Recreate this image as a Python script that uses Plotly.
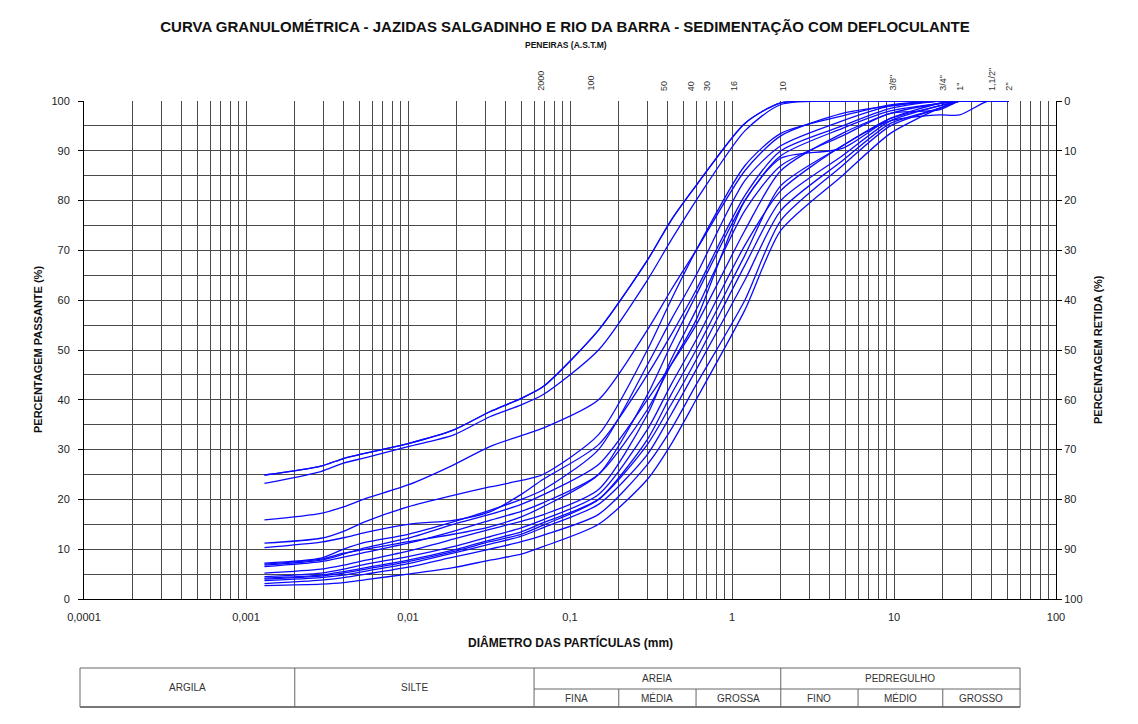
import math
import plotly.graph_objects as go

# ---------------- text ----------------
TITLE = "CURVA GRANULOMÉTRICA - JAZIDAS SALGADINHO E RIO DA BARRA - SEDIMENTAÇÃO COM DEFLOCULANTE"
SUBTITLE = "PENEIRAS (A.S.T.M)"
X_TITLE = "DIÂMETRO DAS PARTÍCULAS (mm)"
Y_TITLE = "PERCENTAGEM PASSANTE (%)"
Y2_TITLE = "PERCENTAGEM RETIDA (%)"

# ---------------- data ----------------
# diameters (mm): sedimentation readings, then sieves
DIAM_SED = [0.0013, 0.0029, 0.0040, 0.0055, 0.01, 0.019, 0.032, 0.05, 0.068]
DIAM_SIEVE = [0.15, 0.3, 0.42, 0.6, 1.2, 2.0, 4.8, 9.5, 19.0, 25.4, 38.1, 50.8]

# percent passing for each sample (sedimentation part + sieve part)
CURVE_01 = [24.9, 26.7, 28.2, 29.3, 31.2, 33.9, 37.6, 40.3, 42.6,
            54, 68, 76, 83, 95.5, 99.6, 100, 100, 100, 100, 100, 100]
CURVE_02 = [23.2, 25.6, 27.3, 28.4, 30.6, 32.9, 36.6, 39.0, 41.0,
            50, 64, 72, 80, 94, 99.3, 100, 100, 100, 100, 100, 100]
CURVE_03 = [15.9, 17.2, 18.5, 20.2, 22.9, 26.9, 30.6, 32.8, 34.3,
            40, 54, 62, 70, 86, 93, 97.5, 99, 100, 100, 100, 100]
CURVE_04 = [11.2, 12.2, 13.6, 15.6, 18.5, 20.8, 22.5, 23.8, 25.0,
            33, 50, 60, 70, 87, 93.5, 97, 99.2, 100, 100, 100, 100]
CURVE_05 = [10.3, 11.4, 12.3, 13.4, 15.0, 15.8, 17.5, 21.0, 24.0,
            31, 45, 53, 62, 81, 90, 95, 98.5, 100, 100, 100, 100]
CURVE_06 = [7.2, 8.2, 10.0, 11.4, 13.0, 15.5, 17.8, 20.0, 21.9,
            30, 47, 56, 65, 84, 91, 96, 99, 100, 100, 100, 100]
CURVE_07 = [6.8, 7.8, 9.0, 10.3, 12.2, 15.0, 17.0, 19.0, 20.9,
            27, 40, 47, 55, 74, 86, 93.5, 97.5, 99.5, 100, 100, 100]
CURVE_08 = [6.5, 7.5, 8.4, 9.4, 11.2, 13.6, 15.8, 17.6, 19.3,
            25, 38, 47, 56, 80, 88.5, 90.5, 96.5, 99.5, 100, 100, 100]
CURVE_09 = [5.2, 6.0, 6.8, 7.8, 9.6, 12.0, 14.0, 15.6, 16.9,
            22, 37, 48, 58, 78, 87, 93, 97.5, 98.2, 100, 100, 100]
CURVE_10 = [4.5, 5.2, 6.0, 7.0, 8.5, 10.5, 12.5, 14.3, 15.9,
            21, 34, 43, 52, 71, 82, 91, 96, 97.2, 97.2, 100, 100]
CURVE_11 = [4.2, 4.8, 5.5, 6.3, 7.8, 9.8, 11.8, 13.5, 15.3,
            20, 31, 39, 48, 67, 80, 89, 96, 99, 100, 100, 100]
CURVE_12 = [3.7, 4.3, 4.8, 5.6, 7.1, 9.2, 11.0, 12.6, 14.3,
            19, 29, 37, 46, 64, 78, 88, 95.5, 98.5, 100, 100, 100]
CURVE_13 = [3.1, 3.8, 4.3, 5.0, 6.4, 8.4, 10.0, 11.5, 12.8,
            17, 27, 34, 43, 60, 76, 87, 95, 98.5, 100, 100, 100]
CURVE_14 = [2.7, 3.0, 3.3, 3.9, 5.0, 6.3, 7.8, 9.0, 10.5,
            15, 24, 31, 40, 58, 74, 85, 93.5, 98.5, 100, 100, 100]
CURVE_15 = [7.0, 8.0, 9.2, 10.0, 11.5, 13.0, 14.5, 16.5, 18.5,
            25, 41, 51, 61, 80, 89, 94.5, 98, 99.5, 100, 100, 100]
CURVE_16 = [4.0, 4.6, 5.2, 6.0, 7.5, 9.5, 11.5, 13.0, 14.8,
            20, 32, 41, 50, 69, 83, 91, 96.5, 99, 100, 100, 100]

CURVES = [CURVE_01, CURVE_02, CURVE_03, CURVE_04, CURVE_05, CURVE_06, CURVE_07, CURVE_08,
          CURVE_09, CURVE_10, CURVE_11, CURVE_12, CURVE_13, CURVE_14, CURVE_15, CURVE_16]

# axis ticks
X_DECADES = [0.0001, 0.001, 0.01, 0.1, 1, 10, 100]
X_DECADE_LABELS = ["0,0001", "0,001", "0,01", "0,1", "1", "10", "100"]
Y_TICKS = [0, 10, 20, 30, 40, 50, 60, 70, 80, 90, 100]

# sieve labels on top (position in mm as read on the chart)
SIEVE_LABELS = ["2000", "100", "50", "40", "30", "16", "10", '3/8"', '3/4"', '1"', '1,1/2"', '2"']
SIEVE_LABEL_MM = [0.066, 0.133, 0.38, 0.56, 0.70, 1.03, 2.07, 9.8, 20.0, 25.5, 40.0, 51.0]

# classification table (ABNT)
CLASS_BOUNDS_MM = [0.002, 0.06, 0.2, 0.6, 2.0, 6.0, 20.0, 60.0]
MAIN_CLASSES = ["ARGILA", "SILTE", "AREIA", "PEDREGULHO"]
SUB_CLASSES = ["FINA", "MÉDIA", "GROSSA", "FINO", "MÉDIO", "GROSSO"]

# ---------------- figure ----------------
FONT = "Liberation Sans, Arial, sans-serif"
BLUE = "rgb(10,10,255)"
GRID = "#4a4a4a"

OFF = 8  # default page body margin
PLOT_L, PLOT_R, PLOT_T, PLOT_B = 84, 1056, 101, 599  # plot area in page pixels
W, H = 1138 - OFF, 724 - OFF
L, T = PLOT_L - OFF, PLOT_T - OFF
R = W - L - (PLOT_R - PLOT_L)
B = H - T - (PLOT_B - PLOT_T)
PW, PH = PLOT_R - PLOT_L, PLOT_B - PLOT_T

diam = DIAM_SED + DIAM_SIEVE
fig = go.Figure()
for c in CURVES:
    fig.add_trace(go.Scatter(x=diam, y=c, mode="lines",
                             line=dict(color=BLUE, width=1.3, shape="spline", smoothing=0.7),
                             showlegend=False, hoverinfo="skip"))
# retained % of the first sample on the right axis (same drawing as passing curve)
fig.add_trace(go.Scatter(x=diam, y=[100 - v for v in CURVE_01], yaxis="y2", mode="lines",
                         line=dict(color=BLUE, width=1.3, shape="spline", smoothing=0.7),
                         showlegend=False, hoverinfo="skip"))

# x grid at every 1..9 x 10^k
xt, xl = [], []
for i, dec in enumerate(X_DECADES[:-1]):
    for k in range(1, 10):
        xt.append(dec * k)
        xl.append(X_DECADE_LABELS[i] if k == 1 else "")
xt.append(X_DECADES[-1])
xl.append(X_DECADE_LABELS[-1])


def px_x(px):
    return (px - PLOT_L) / PW


def px_y(py):
    return (PLOT_B - py) / PH


def mm_paper(d):
    return (math.log10(d) - math.log10(X_DECADES[0])) / (math.log10(X_DECADES[-1]) - math.log10(X_DECADES[0]))


fig.update_layout(
    width=W, height=H,
    margin=dict(l=L, r=R, t=T, b=B),
    paper_bgcolor="white", plot_bgcolor="white",
    font=dict(family=FONT, size=11, color="#222"),
    title=dict(text="<b>" + TITLE + "</b>", x=px_x(565), xref="paper",
               y=1 - (27 - OFF) / H, yref="container", xanchor="center", yanchor="middle",
               font=dict(size=15, color="#111", family=FONT)),
    xaxis=dict(type="log", range=[math.log10(X_DECADES[0]), math.log10(X_DECADES[-1])],
               tickvals=xt, ticktext=xl, ticks="", ticklabelstandoff=8,
               showgrid=True, gridcolor=GRID, gridwidth=1,
               showline=True, linecolor="black", linewidth=1, zeroline=False,
               tickfont=dict(size=11, color="#222")),
    yaxis=dict(range=[0, 100], tickvals=Y_TICKS, ticks="outside", ticklen=5, tickcolor="black",
               ticklabelstandoff=6,
               showgrid=True, gridcolor=GRID, gridwidth=1,
               minor=dict(dtick=5, showgrid=True, gridcolor=GRID, gridwidth=1, ticks=""),
               showline=True, linecolor="black", linewidth=1, zeroline=False,
               tickfont=dict(size=11, color="#222")),
    yaxis2=dict(range=[100, 0], tickvals=Y_TICKS, overlaying="y", side="right", ticks="outside",
                ticklen=5, tickcolor="black", showgrid=False, showline=True, linecolor="black",
                linewidth=1, zeroline=False, tickfont=dict(size=11, color="#222")),
)

ann = []
ann.append(dict(text="<b>" + SUBTITLE + "</b>", xref="paper", yref="paper", x=px_x(566), y=px_y(45),
                showarrow=False, font=dict(size=8.5, color="#111"), xanchor="center", yanchor="middle"))
ann.append(dict(text="<b>" + X_TITLE + "</b>", xref="paper", yref="paper", x=0.5, y=px_y(642),
                showarrow=False, font=dict(size=12, color="#111"), xanchor="center", yanchor="middle"))
ann.append(dict(text="<b>" + Y_TITLE + "</b>", xref="paper", yref="paper", x=px_x(38), y=0.5,
                textangle=-90, showarrow=False, font=dict(size=11, color="#111"),
                xanchor="center", yanchor="middle"))
ann.append(dict(text="<b>" + Y2_TITLE + "</b>", xref="paper", yref="paper", x=px_x(1098), y=0.5,
                textangle=-90, showarrow=False, font=dict(size=11, color="#111"),
                xanchor="center", yanchor="middle"))
for lab, d in zip(SIEVE_LABELS, SIEVE_LABEL_MM):
    ann.append(dict(text=lab, xref="x", yref="paper", x=math.log10(d), y=1, yshift=8,
                    textangle=-90, showarrow=False, font=dict(size=9, color="#333"),
                    xanchor="center", yanchor="bottom"))

# classification table
shapes = []
ty_top, ty_mid, ty_bot = px_y(668), px_y(689), px_y(707)
tx_left = px_x(80)
bx = [mm_paper(d) for d in CLASS_BOUNDS_MM]
line = dict(color="#666", width=1)
shapes.append(dict(type="rect", xref="paper", yref="paper", x0=tx_left, x1=bx[-1], y0=ty_bot, y1=ty_top,
                   line=line))
shapes.append(dict(type="line", xref="paper", yref="paper", x0=tx_left, x1=bx[-1], y0=ty_bot, y1=ty_bot,
                   line=dict(color="#777", width=2)))
for i in (0, 1, 4):
    shapes.append(dict(type="line", xref="paper", yref="paper", x0=bx[i], x1=bx[i], y0=ty_bot, y1=ty_top, line=line))
for i in (2, 3, 5, 6):
    shapes.append(dict(type="line", xref="paper", yref="paper", x0=bx[i], x1=bx[i], y0=ty_bot, y1=ty_mid, line=line))
shapes.append(dict(type="line", xref="paper", yref="paper", x0=bx[1], x1=bx[-1], y0=ty_mid, y1=ty_mid, line=line))

tfont = dict(size=10, color="#333")
main_x = [(tx_left + bx[0]) / 2, (bx[0] + bx[1]) / 2, (bx[1] + bx[4]) / 2, (bx[4] + bx[7]) / 2]
main_y = [(ty_top + ty_bot) / 2, (ty_top + ty_bot) / 2, (ty_top + ty_mid) / 2, (ty_top + ty_mid) / 2]
for t, x, y in zip(MAIN_CLASSES, main_x, main_y):
    ann.append(dict(text=t, xref="paper", yref="paper", x=x, y=y, showarrow=False, font=tfont,
                    xanchor="center", yanchor="middle"))
sub_edges = [bx[1], bx[2], bx[3], bx[4], bx[5], bx[6], bx[7]]
for i, t in enumerate(SUB_CLASSES):
    ann.append(dict(text=t, xref="paper", yref="paper", x=(sub_edges[i] + sub_edges[i + 1]) / 2,
                    y=(ty_mid + ty_bot) / 2, showarrow=False, font=tfont,
                    xanchor="center", yanchor="middle"))

fig.update_layout(annotations=ann, shapes=shapes)
fig.write_html("out.html")
